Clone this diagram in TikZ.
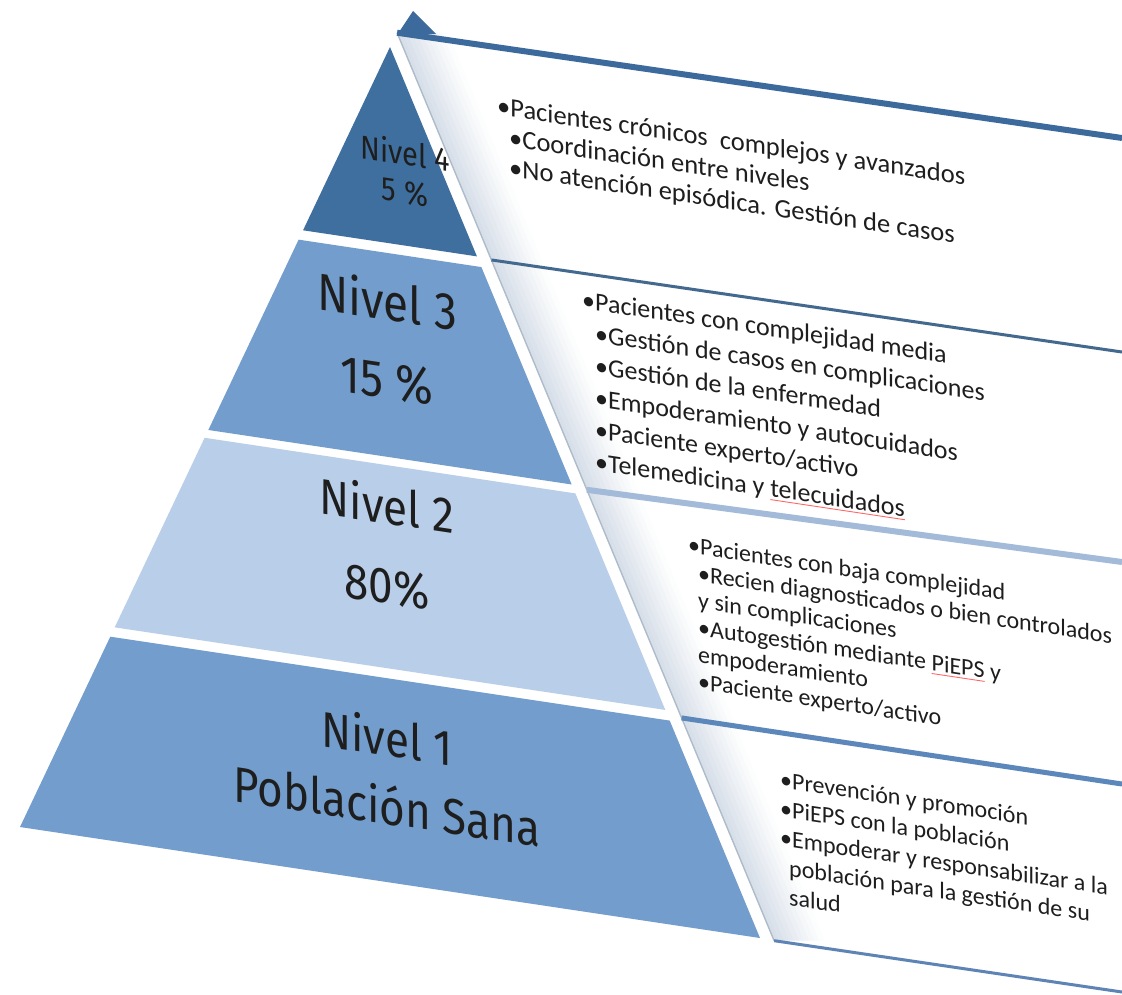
\documentclass[tikz,border=0pt]{standalone}
\usepackage{fontspec}
\setmainfont{Carlito}
\newfontfamily\labelfont{Fira Sans}
\usetikzlibrary{calc}

\definecolor{lvfour}{HTML}{3F6F9F}
\definecolor{lvthree}{HTML}{729DCC}
\definecolor{lvtwo}{HTML}{B9CEE8}
\definecolor{lvone}{HTML}{729DCC}
\definecolor{sepzero}{HTML}{3C6A9C}
\definecolor{sepone}{HTML}{44698F}
\definecolor{septwo}{HTML}{A3BAD8}
\definecolor{septhree}{HTML}{5C87BA}
\definecolor{sepfour}{HTML}{5D84B5}
\definecolor{edgegray}{HTML}{AEBBCB}
\definecolor{stripgray}{HTML}{D3DBE6}
\definecolor{inkdark}{HTML}{1E1E1E}

% faint spell-check underline
\newcommand\spellmark[1]{\setbox0\hbox{#1}\rlap{\color{red!60}\rule[-3.5pt]{\wd0}{0.9pt}}\box0\relax}

\tikzset{
  lab/.style={font=\labelfont, align=center, text=inkdark, inner sep=0pt,
              yslant=-0.15, xscale=0.88},
  boxtxt/.style={align=left, anchor=north west, inner sep=0pt, text=inkdark,
                 yslant=-0.15},
}

\begin{document}
\begin{tikzpicture}[x=1pt,y=-1pt]
\fill[white] (0,0) rectangle (1122,994);
\useasboundingbox (0,0) rectangle (1122,994);

% pyramid corners
\coordinate (A) at (390,47);
\coordinate (L) at (20,827);
\coordinate (R) at (760,938);

% level limits along both flanks
\foreach \n/\t in {a/0.235,b/0.247,c/0.491,d/0.501,e/0.744,f/0.756}{
  \coordinate (l\n) at ($(A)!\t!(L)$);
  \coordinate (r\n) at ($(A)!\t!(R)$);
}

% left borders of the text panels, parallel to the right flank
\foreach \i/\t in {0/-0.016,1/0.239,2/0.497,3/0.753,4/1.003}{
  \coordinate (b\i) at ($(A)!\t!(R)+(13,0)$);
}
\coordinate (e0) at (1122,138);
\coordinate (e1) at (1122,352);
\coordinate (e2) at (1122,562);
\coordinate (e3) at (1122,784);
\coordinate (e4) at (1122,992);

% soft grey bevel along the left side of each panel
\foreach \i/\j in {0/1,1/2,2/3,3/4}{
  \foreach \k/\p in {0/90,1/80,2/70,3/60,4/50,5/41,6/32,7/23,8/14,9/6}{
    \fill[stripgray!\p!white]
      ($(b\i)+(\k*5,0)$) -- ($(b\j)+(\k*5,0)$) --
      ($(b\j)+(\k*5+5.4,0)$) -- ($(b\i)+(\k*5+5.4,0)$) -- cycle;
  }
}

% pyramid levels
\fill[lvfour]  (A) -- (ra) -- (la) -- cycle;
\fill[lvthree] (lb) -- (rb) -- (rc) -- (lc) -- cycle;
\fill[lvtwo]   (ld) -- (rd) -- (re) -- (le) -- cycle;
\fill[lvone]   (lf) -- (rf) -- (R) -- (L) -- cycle;

% panel edge and dividing lines
\draw[edgegray, line width=1.4] (b0) -- (b4);
\draw[sepone, line width=3] (b1) -- (e1);
\draw[septwo, line width=6] (b2) -- (e2);
\draw[septhree, line width=5] (b3) -- (e3);
\draw[sepfour, line width=3] (b4) -- (e4);
\draw[sepzero, line width=6] (b0) -- (e0);
\fill[sepzero] (397,35) -- (413,11) -- (436,34) -- cycle;

% level labels
\node[lab, font=\labelfont\fontsize{33}{38}\selectfont] (n4) at (405,172) {Nivel 4\\5 \%};
\node[lab, font=\labelfont\fontsize{52}{78}\selectfont] (n3) at (387,340) {Nivel 3\\15 \%};
\node[lab, font=\labelfont\fontsize{50}{80}\selectfont] (n2) at (387,545) {Nivel 2\\80\%};
\node[lab, font=\labelfont\fontsize{50}{68}\selectfont] (n1) at (387,771) {Nivel 1\\Población Sana};

% panel texts
\node[boxtxt, font=\fontsize{26.5}{30}\selectfont] (t4) at (497,96) {%
  \textbullet Pacientes crónicos\ \ complejos y avanzados\\
  \hspace*{12pt}\textbullet Coordinación entre niveles\\
  \hspace*{12pt}\textbullet No atención episódica. Gestión de casos};

\node[boxtxt, font=\fontsize{26}{32}\selectfont] (t3) at (582,290) {%
  \textbullet Pacientes con complejidad media\\
  \hspace*{13pt}\textbullet Gestión de casos en complicaciones\\
  \hspace*{13pt}\textbullet Gestión de la enfermedad\\
  \hspace*{13pt}\textbullet Empoderamiento y autocuidados\\
  \hspace*{13pt}\textbullet Paciente experto/activo\\
  \hspace*{13pt}\textbullet Telemedicina y \spellmark{telecuidados}};

\node[boxtxt, font=\fontsize{24}{27}\selectfont] (t2) at (688,536) {%
  \textbullet Pacientes con baja complejidad\\
  \hspace*{10pt}\textbullet Recien diagnosticados o bien controlados\\
  \hspace*{10pt}y sin complicaciones\\
  \hspace*{10pt}\textbullet Autogestión mediante \spellmark{PiEPS} y\\
  \hspace*{10pt}empoderamiento\\
  \hspace*{10pt}\textbullet Paciente experto/activo};

\node[boxtxt, font=\fontsize{24}{29}\selectfont] (t1) at (780,771) {%
  \textbullet Prevención y promoción\\
  \textbullet PiEPS con la población\\
  \textbullet Empoderar y responsabilizar a la\\
  \hspace*{9pt}población para la gestión de su\\
  \hspace*{9pt}salud};
\end{tikzpicture}
\end{document}
